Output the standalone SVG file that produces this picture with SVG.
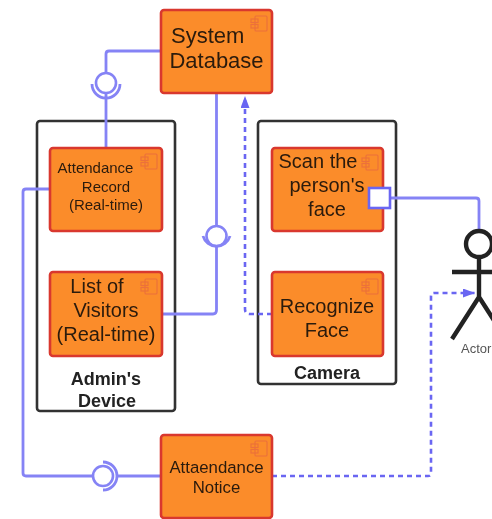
<svg xmlns="http://www.w3.org/2000/svg" width="492" height="519" viewBox="0 0 492 519">
<style>
text{font-family:"Liberation Sans",Arial,sans-serif;fill:#2b1a0c;text-anchor:middle}
.comp{fill:#fb8c2b;stroke:#d9372f;stroke-width:2.6}
.cont{fill:#fff;stroke:#333;stroke-width:2.6}
.ic{fill:none;stroke:#ec6f3a;stroke-width:1.1}
.ln{fill:none;stroke:#8583f5;stroke-width:2.8}
.ds{fill:none;stroke:#6a66f2;stroke-width:2.6;stroke-dasharray:5 4}
.sk{fill:#fff;stroke:#8583f5;stroke-width:2.6}
.lab{font-weight:700;font-size:18px;fill:#222}
.act{fill:none;stroke:#222;stroke-width:4.4}
.big{font-size:22px}
.mid{font-size:20px}
.sm{font-size:15px}
.m2{font-size:16.8px}
</style>
<defs>
<filter id="soft" filterUnits="userSpaceOnUse" x="0" y="0" width="492" height="519"><feGaussianBlur stdDeviation="0.55"/></filter>
<g id="ci"><rect x="4" y="0" width="12" height="15" rx="1" class="ic"/><rect x="0" y="3" width="7" height="3.5" class="ic"/><rect x="0" y="8.500" width="7" height="3.5" class="ic"/></g>
<marker id="ah" markerWidth="13" markerHeight="10" refX="12" refY="4.5" orient="auto" markerUnits="userSpaceOnUse"><path d="M0 0L12 4.5L0 9Z" fill="#6a66f2"/></marker>
</defs>
<g filter="url(#soft)">
<g id="admin-device"><rect class="cont" x="37" y="121" width="138" height="290" rx="3"/><text class="lab" x="106" y="385">Admin's</text><text class="lab" x="107" y="407">Device</text></g>
<g id="camera"><rect class="cont" x="258" y="121" width="138" height="263" rx="3"/><text class="lab" x="327" y="379">Camera</text></g>
<g id="connectors">
<path class="ln" d="M161 51H109Q106 51 106 54V74M106 94V148"/>
<path class="ln" d="M216.500 93V226M216.500 246V310Q216.500 314 213 314H162"/>
<path class="ln" d="M50 189H26Q23 189 23 192V473Q23 476 26 476H93M117 476H161"/>
<path class="ln" d="M390 198H476Q479 198 479 201V230"/>
<path class="ds" marker-end="url(#ah)" d="M272 314H250Q245 314 245 309V96"/>
<path class="ds" marker-end="url(#ah)" d="M272 476H428Q431 476 431 473V296Q431 293 434 293H475"/>
<circle class="sk" cx="106" cy="83" r="10"/><path class="ln" d="M92 84A14 14 0 0 0 120 84"/>
<circle class="sk" cx="216.500" cy="236" r="10"/><path class="ln" d="M203 236A14 14 0 0 0 230 236"/>
<circle class="sk" cx="103" cy="476" r="10"/><path class="ln" d="M103 462A14 14 0 0 1 103 490"/>
</g>
<g id="system-database"><rect class="comp" x="161" y="10" width="111" height="83" rx="3"/><use href="#ci" x="251" y="16"/><text class="big" x="171" y="43" style="text-anchor:start">System</text><text class="big" x="216.500" y="68">Database</text></g>
<g id="attendance-record"><rect class="comp" x="50" y="148" width="112" height="83" rx="3"/><use href="#ci" x="141" y="154"/><text class="sm" x="95.500" y="173">Attendance</text><text class="sm" x="106" y="192">Record</text><text class="sm" x="106" y="210">(Real-time)</text></g>
<g id="list-of-visitors"><rect class="comp" x="50" y="272" width="112" height="84" rx="3"/><use href="#ci" x="141" y="279"/><text class="mid" x="97" y="293">List of</text><text class="mid" x="106" y="317">Visitors</text><text class="mid" x="106" y="341">(Real-time)</text></g>
<g id="scan-face"><rect class="comp" x="272" y="148" width="111" height="83" rx="3"/><use href="#ci" x="362" y="155"/><text class="mid" x="318" y="168">Scan the</text><text class="mid" x="327" y="192">person's</text><text class="mid" x="327" y="216">face</text><rect x="369" y="188" width="21" height="20" fill="#fff" stroke="#6a66f2" stroke-width="2.6"/></g>
<g id="recognize-face"><rect class="comp" x="272" y="272" width="111" height="84" rx="3"/><use href="#ci" x="362" y="279"/><text class="mid" x="327" y="313">Recognize</text><text class="mid" x="327" y="337">Face</text></g>
<g id="attendance-notice"><rect class="comp" x="161" y="435" width="111" height="83" rx="3"/><use href="#ci" x="251" y="441"/><text class="m2" x="216.500" y="473">Attaendance</text><text class="m2" x="216.500" y="493">Notice</text></g>
<g id="actor"><circle cx="479" cy="244" r="13" fill="#fff" stroke="#222" stroke-width="4.4"/><path class="act" d="M479 257V297M452 272H506M479 297L452 339M479 297L506 339"/><text x="461" y="353" style="text-anchor:start;font-size:13px;fill:#555">Actor</text></g>
</g>
</svg>
